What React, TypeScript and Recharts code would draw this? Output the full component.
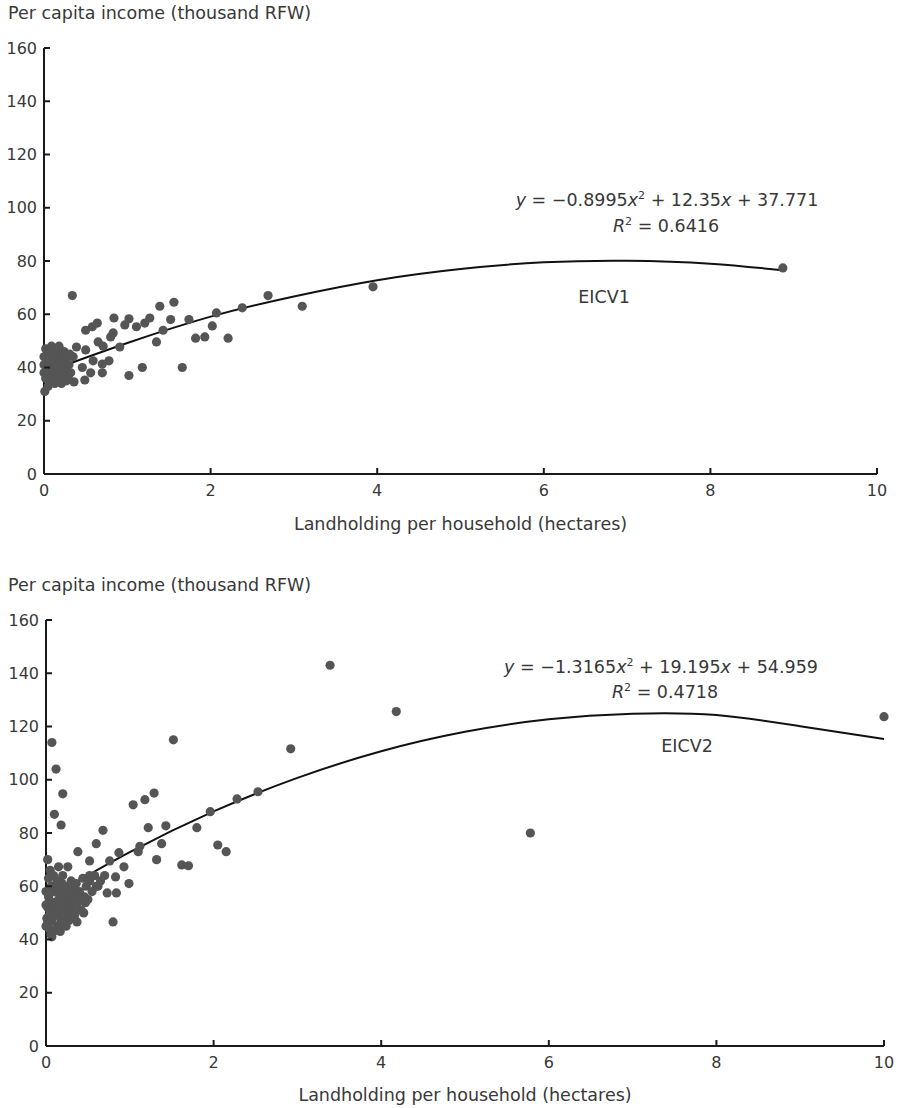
import React from "react";
import { ComposedChart, Scatter, Line, XAxis, YAxis, Label } from "recharts";

// EICV1: landholding (ha), per capita income (thousand RFW)
const eicv1Points: [number, number][] = [
  [0.34, 67], [1.39, 63], [1.56, 64.5], [2.69, 67], [3.1, 63], [2.38, 62.4], [2.07, 60.5],
  [2.02, 55.6], [1.82, 51], [1.93, 51.5], [2.21, 51], [1.66, 40], [1.18, 40], [1.02, 37],
  [1.74, 58], [1.52, 58], [1.35, 49.6], [1.43, 54], [1.27, 58.6], [1.21, 56.7], [1.11, 55.3],
  [1.02, 58.3], [0.97, 56], [0.84, 58.6], [0.83, 53], [0.8, 51.5], [0.91, 47.7], [0.64, 56.7],
  [0.58, 55.3], [0.5, 54], [0.65, 49.6], [0.71, 48], [0.5, 46.6], [0.39, 47.7], [0.78, 42.5],
  [0.7, 41.3], [0.7, 38], [0.59, 42.5], [0.56, 38], [0.49, 35.3], [0.36, 34.6], [0.46, 40],
  [0.35, 44], [3.95, 70.3], [8.87, 77.4],
  [0.01, 31], [0.02, 36], [0.03, 40.5], [0.04, 44], [0.05, 38], [0.06, 42], [0.07, 46],
  [0.08, 35], [0.09, 40], [0.1, 43], [0.11, 37], [0.12, 47], [0.13, 41], [0.14, 39],
  [0.15, 44.5], [0.16, 36], [0.17, 42], [0.18, 45], [0.19, 38], [0.2, 41], [0.21, 34],
  [0.22, 43], [0.23, 40], [0.24, 46], [0.25, 37], [0.26, 42.5], [0.27, 39], [0.28, 44],
  [0.29, 36], [0.3, 41], [0.02, 47], [0.05, 33], [0.09, 48], [0.13, 34], [0.18, 48],
  [0.22, 37], [0.27, 35], [0.32, 38], [0.31, 45], [0, 41], [0, 38], [0, 44], [0.06, 39],
  [0.11, 45], [0.15, 41],
];

const eicv2Points: [number, number][] = [
  [0.07, 114], [0.12, 104], [0.2, 94.7], [0.1, 87], [0.18, 83], [0.02, 70], [0.38, 73],
  [0.6, 76], [0.68, 81], [0.52, 69.5], [0.76, 69.5], [0.87, 72.6], [0.93, 67.3], [0.83, 63.5],
  [0.99, 61], [0.73, 57.5], [0.84, 57.5], [0.8, 46.6], [1.04, 90.6], [1.18, 92.5], [1.29, 95],
  [1.22, 82], [1.43, 82.7], [1.12, 75], [1.1, 73], [1.38, 76], [1.32, 70], [1.62, 68],
  [1.7, 67.7], [1.8, 82], [1.96, 88], [2.05, 75.5], [2.15, 73], [2.28, 92.8], [2.53, 95.5],
  [2.92, 111.6], [1.52, 115], [3.39, 143], [4.18, 125.6], [5.78, 80], [10, 123.7],
  [0.02, 46.6], [0.07, 41], [0.15, 67.3], [0.26, 67.3], [0.52, 64], [0.7, 64], [0.6, 60],
  [0.37, 46.6], [0.47, 53.8],
  [0.01, 48], [0.02, 52], [0.03, 56], [0.04, 44], [0.05, 50], [0.06, 60], [0.07, 47],
  [0.08, 54], [0.09, 43], [0.1, 58], [0.11, 49], [0.12, 52], [0.13, 62], [0.14, 45],
  [0.15, 55], [0.16, 50], [0.17, 57], [0.18, 47], [0.19, 61], [0.2, 53], [0.21, 49],
  [0.22, 58], [0.23, 51], [0.24, 55], [0.25, 48], [0.26, 60], [0.27, 53], [0.28, 57],
  [0.29, 50], [0.3, 62], [0.31, 55], [0.32, 52], [0.33, 59], [0.34, 49], [0.35, 56],
  [0.36, 61], [0.38, 54], [0.4, 58], [0.42, 51], [0.44, 63], [0.46, 56], [0.48, 60],
  [0.5, 55], [0.52, 62], [0.55, 58], [0.58, 64], [0.62, 60], [0.65, 62], [0.03, 63],
  [0.05, 66], [0.09, 64], [0, 58], [0, 53], [0, 45], [0.06, 42], [0.12, 44], [0.17, 43],
  [0.22, 46], [0.27, 47], [0.32, 48], [0.04, 57], [0.1, 51], [0.14, 59], [0.2, 64],
  [0.24, 45], [0.29, 58], [0.35, 52], [0.41, 55], [0.45, 50],
];

// trend curves
const eicv1Fit: [number, number][] = [
  [0.3, 41.4], [1, 49.2], [2, 59.1], [3, 66.7], [4, 72.8], [5, 77], [6, 79.5], [7, 80.1],
  [8, 79], [8.87, 76.5],
];
const eicv2Fit: [number, number][] = [
  [0.1, 56.9], [1, 72.8], [2, 88.1], [3, 100.7], [4, 110.7], [5, 118],
  [6, 122.7], [7, 124.8], [8, 124.3], [9, 120.1], [10, 115.3],
];

const xTicks = [0, 2, 4, 6, 8, 10];
const yTicks = [0, 20, 40, 60, 80, 100, 120, 140, 160];

const FONT = '"DejaVu Sans", Verdana, sans-serif';
const TXT = "#383838";
const AXIS = "#1a1a1a";
const DOT = "#555555";
const LABEL_SIZE = 17.5;

const toXY = (arr: [number, number][]) => arr.map(([x, y]) => ({ x, y }));

function YTick(props: any) {
  const { x, y, payload } = props;
  return (
    <g>
      <line x1={x + 7} x2={x + 13} y1={y} y2={y} stroke={AXIS} strokeWidth={2} />
      <text x={x} y={y} dy="0.35em" textAnchor="end" fill={TXT} fontSize={16} fontFamily={FONT}>
        {payload.value}
      </text>
    </g>
  );
}

function XTick(props: any) {
  const { x, y, payload } = props;
  return (
    <g>
      <line x1={x} x2={x} y1={y - 11} y2={y - 17} stroke={AXIS} strokeWidth={2} />
      <text x={x} y={y} dy="0.71em" textAnchor="middle" fill={TXT} fontSize={16} fontFamily={FONT}>
        {payload.value}
      </text>
    </g>
  );
}

const dot = (p: any) => <circle cx={p.cx} cy={p.cy} r={4.6} fill={DOT} />;

function Panel({ points, fit, left, right, top, height, labelOffset }: any) {
  return (
    <ComposedChart
      width={898}
      height={height}
      margin={{ top, right, left: 0, bottom: 0 }}
    >
      <XAxis
        type="number"
        dataKey="x"
        domain={[0, 10]}
        ticks={xTicks}
        tickSize={0}
        tickMargin={11}
        tickLine={false}
        axisLine={{ stroke: AXIS, strokeWidth: 2 }}
        tick={<XTick />}
        height={height - top - 426}
      >
        <Label
          value="Landholding per household (hectares)"
          position="insideBottom"
          offset={labelOffset}
          fill={TXT}
          fontSize={LABEL_SIZE}
          fontFamily={FONT}
        />
      </XAxis>
      <YAxis
        type="number"
        dataKey="y"
        domain={[0, 160]}
        ticks={yTicks}
        tickSize={0}
        tickMargin={7}
        tickLine={false}
        axisLine={{ stroke: AXIS, strokeWidth: 2 }}
        tick={<YTick />}
        width={left}
      />
      <Scatter data={toXY(points)} shape={dot} isAnimationActive={false} />
      <Line
        data={toXY(fit)}
        dataKey="y"
        type="natural"
        stroke="#111"
        strokeWidth={2}
        dot={false}
        activeDot={false}
        isAnimationActive={false}
      />
    </ComposedChart>
  );
}

const abs = (left: number, top: number, extra: any = {}) => ({
  position: "absolute" as const,
  left,
  top,
  fontFamily: FONT,
  fontSize: LABEL_SIZE,
  color: TXT,
  whiteSpace: "nowrap" as const,
  ...extra,
});

const sup: React.CSSProperties = { fontSize: 11, verticalAlign: "super", lineHeight: 0 };

function Centered({ cx, cy, children }: any) {
  return (
    <div style={abs(cx, cy, { transform: "translate(-50%, -50%)", lineHeight: "22px" })}>{children}</div>
  );
}

export default function App() {
  return (
    <div style={{ position: "absolute", left: 0, top: 0, width: 898, height: 1108, background: "#fff" }}>
      <div style={{ position: "absolute", left: 0, top: 0 }}>
        <Panel points={eicv1Points} fit={eicv1Fit} left={44} right={21} top={48} height={545} labelOffset={15} />
      </div>
      <div style={{ position: "absolute", left: 0, top: 560 }}>
        <Panel points={eicv2Points} fit={eicv2Fit} left={46} right={14} top={60} height={548} labelOffset={7} />
      </div>

      <div style={abs(8, 3)}>Per capita income (thousand RFW)</div>
      <div style={abs(8, 575)}>Per capita income (thousand RFW)</div>

      <Centered cx={667} cy={200}>
        <i>y</i> = −0.8995<i>x</i><span style={sup}>2</span> + 12.35<i>x</i> + 37.771
      </Centered>
      <Centered cx={666} cy={226}>
        <i>R</i><span style={sup}>2</span> = 0.6416
      </Centered>
      <Centered cx={604} cy={297}>EICV1</Centered>

      <Centered cx={661} cy={667}>
        <i>y</i> = −1.3165<i>x</i><span style={sup}>2</span> + 19.195<i>x</i> + 54.959
      </Centered>
      <Centered cx={665} cy={692}>
        <i>R</i><span style={sup}>2</span> = 0.4718
      </Centered>
      <Centered cx={687} cy={746}>EICV2</Centered>
    </div>
  );
}
